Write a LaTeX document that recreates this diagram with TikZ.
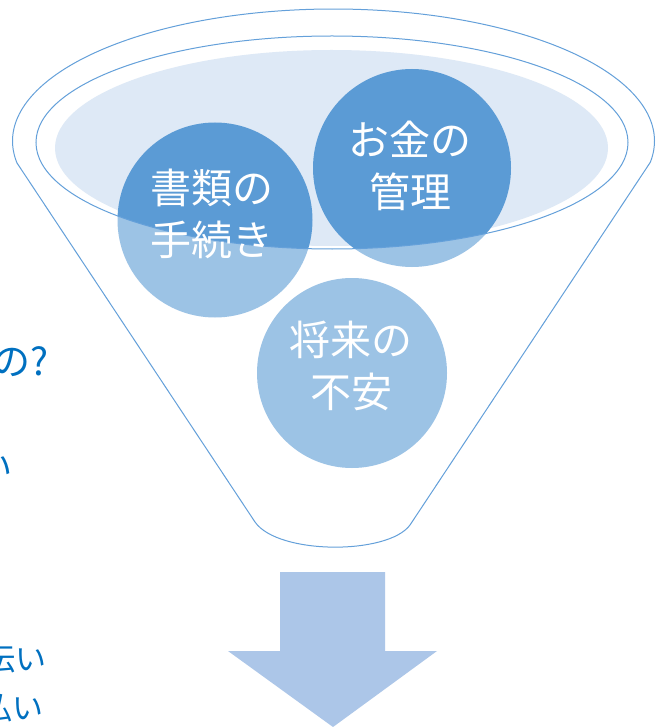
\documentclass[tikz,border=0pt]{standalone}
\usepackage{fontspec}
\newfontfamily\jp{Noto Sans CJK JP}
\definecolor{circ}{RGB}{91,155,213}
\definecolor{fillell}{RGB}{222,233,246}
\definecolor{linec}{RGB}{100,160,218}
\definecolor{arrowc}{RGB}{172,198,232}
\definecolor{txtblue}{RGB}{0,112,192}
\tikzset{
  ball/.style={circle, fill=circ, inner sep=0pt},
  balltext/.style={text=white, align=center, inner sep=0pt, font=\jp\fontsize{41}{52}\selectfont},
  funnelline/.style={draw=linec, line width=1pt},
  sidetext/.style={text=txtblue, inner sep=0pt, anchor=east},
}
\begin{document}
\begin{tikzpicture}[x=1pt, y=-1pt]
\fill[white] (0,0) rectangle (657,727);
\useasboundingbox (0,0) rectangle (657,727);
% light fill of the opening
\fill[fillell] (331.5,148) ellipse [x radius=276.5, y radius=98];
% balls
\node[ball, minimum size=195pt] (shorui) at (215,220) {};
\node[ball, minimum size=198pt] (okane) at (412,168) {};
\node[ball, minimum size=190pt] (shorai) at (352,373) {};
% translucent funnel body over the balls
\fill[white, opacity=0.4, even odd rule] (-5,-5) rectangle (662,732) (332,142.5) ellipse [x radius=296, y radius=106.5];
% funnel outline
\draw[funnelline] plot[domain=170.4:369.3, samples=150] ({333.5+321*cos(\x)}, {141+132*sin(\x)})
  -- (410,525) .. controls (388,555) and (278,555) .. (255,522) -- cycle;
\draw[funnelline] (332,142.5) ellipse [x radius=296, y radius=106.5];
% ball texts
\node[balltext] (t1) at ([shift={(-3,-6)}]shorui.center) {書類の\\手続き};
\node[balltext] (t2) at ([shift={(-2,-2)}]okane.center) {お金の\\管理};
\node[balltext] (t3) at ([shift={(-1,-7)}]shorai.center) {将来の\\不安};
% arrow
\fill[arrowc] (280,572) -- (385,572) -- (385,651) -- (437,651) -- (333,727) -- (228,651) -- (280,651) -- cycle;
% cut-off texts at the left edge
\begin{scope}
\clip (0,0) rectangle (657,727);
\node[sidetext, font=\jp\fontsize{38}{38}\selectfont] (s1) at (49,362) {の?};
\node[sidetext, font=\jp\fontsize{34}{34}\selectfont] (s2) at (13,468) {い};
\node[sidetext, font=\jp\fontsize{31}{31}\selectfont] (s3) at (47,659) {伝い};
\node[sidetext, font=\jp\fontsize{31}{31}\selectfont] (s4) at (44,708) {払い};
\end{scope}
\end{tikzpicture}
\end{document}
